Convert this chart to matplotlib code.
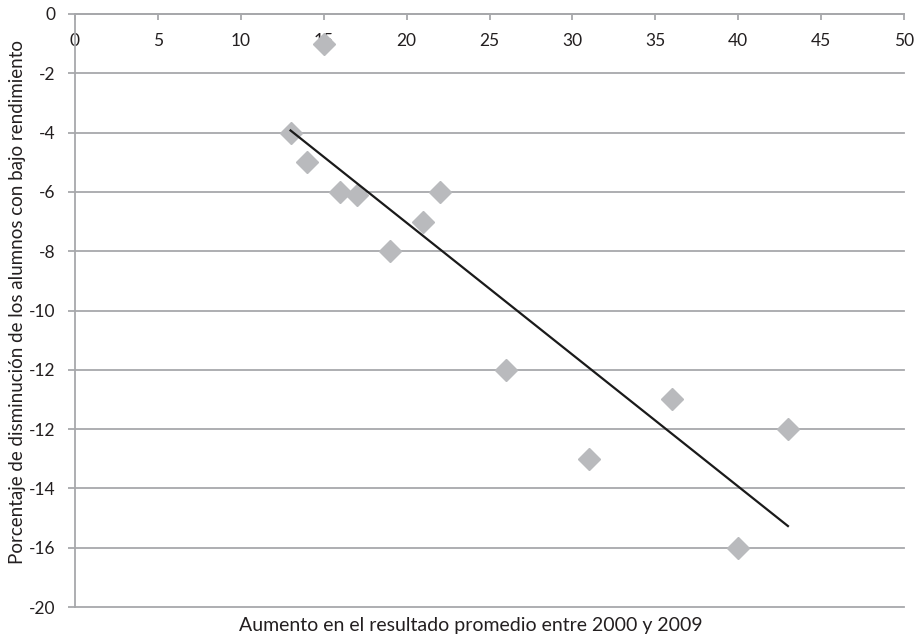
import numpy as np
import matplotlib.pyplot as plt

plt.rcParams['font.family'] = ['Lato', 'DejaVu Sans']

# aumento del resultado promedio (x) y posición del punto en el eje vertical (y)
aumento = [15, 13, 14, 16, 17, 19, 21, 22, 26, 31, 36, 40, 43]
disminucion = [-1, -4, -5, -6, -6.1, -8, -7, -6, -12, -15, -13, -18, -14]

x_ticks = [0, 5, 10, 15, 20, 25, 30, 35, 40, 45, 50]
y_ticks = [0, -2, -4, -6, -8, -10, -12, -14, -16, -18, -20]
# etiquetas tal como aparecen en el original
y_labels = ['0', '-2', '-4', '-6', '-8', '-10', '-12', '-12', '-14', '-16', '-20']

grid_color = '#a7a8ab'
text_color = '#231f20'

fig = plt.figure(figsize=(9.19, 6.40), dpi=100)
ax = fig.add_axes([75 / 919, 1 - 607 / 640, (904 - 75) / 919, (607 - 14) / 640])

ax.set_xlim(0, 50)
ax.set_ylim(-20, 0)

for y in y_ticks:
    ax.axhline(y, color=grid_color, lw=1.3, zorder=1, clip_on=False)

# eje x cruzando en y = 0
ax.spines['bottom'].set_position(('data', 0))
ax.spines['bottom'].set_color(grid_color)
ax.spines['bottom'].set_linewidth(1.3)
ax.spines['left'].set_color(grid_color)
ax.spines['left'].set_linewidth(1.3)
ax.spines['top'].set_visible(False)
ax.spines['right'].set_visible(False)

ax.set_xticks(x_ticks)
ax.set_xticklabels([str(v) for v in x_ticks])
ax.set_yticks(y_ticks)
ax.set_yticklabels(y_labels)
ax.tick_params(axis='x', direction='out', length=4, width=1.3, color=grid_color,
               pad=10, labelsize=12.5, labelcolor=text_color)
ax.tick_params(axis='y', direction='out', length=5, width=1.3, color=grid_color,
               pad=9, labelsize=12.5, labelcolor=text_color)

ax.plot(aumento, disminucion, linestyle='none', marker='D', markersize=11,
        color='#b9babd', zorder=3, clip_on=False)

# línea de tendencia lineal
slope, intercept = np.polyfit(aumento, disminucion, 1)
xs = np.array([min(aumento), max(aumento)])
ax.plot(xs, slope * xs + intercept, color='#1a1a1a', lw=1.6, zorder=4)

fig.text(471 / 919, 1 - 625 / 640, 'Aumento en el resultado promedio entre 2000 y 2009',
         ha='center', va='center', fontsize=14, color=text_color)
fig.text(18 / 919, 1 - 302 / 640,
         'Porcentaje de disminución de los alumnos con bajo rendimiento',
         ha='center', va='center', rotation=90, fontsize=13.5, color=text_color)

fig.savefig('out.png', dpi=100)
